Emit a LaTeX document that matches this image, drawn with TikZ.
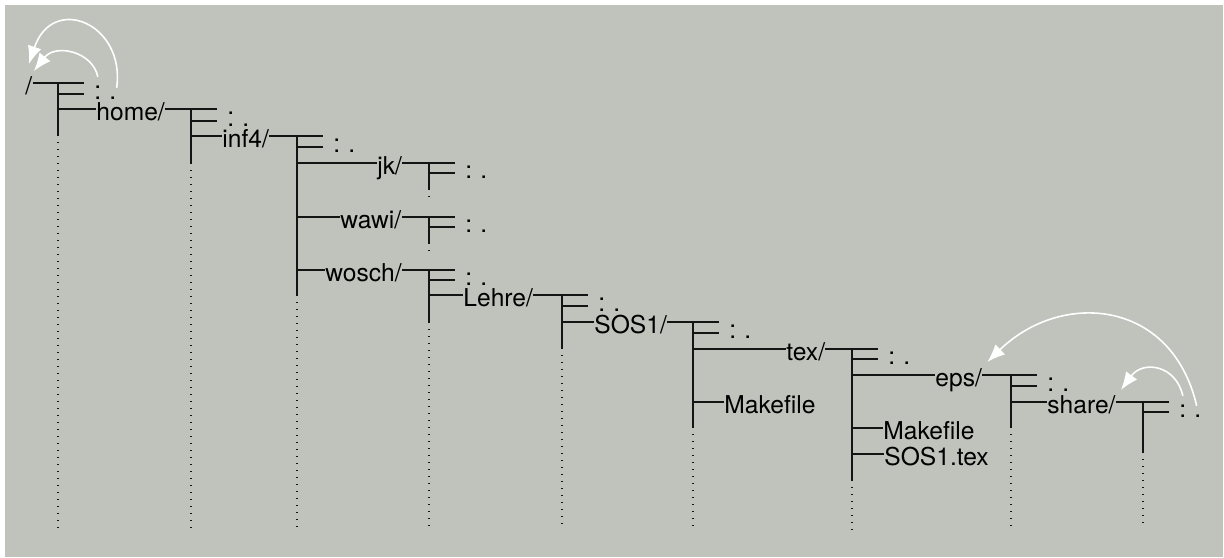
\documentclass[tikz,border=0pt]{standalone}
\usepackage{fontspec}
\setmainfont{TeX Gyre Heros}
\usepackage{tikz}
\usepackage{xcolor}
\usetikzlibrary{arrows.meta}
\definecolor{paper}{RGB}{191,195,188}
\definecolor{ink}{RGB}{20,20,20}

\begin{document}
\begin{tikzpicture}[x=0.5pt, y=-0.5pt,
  entry/.style={inner sep=0pt, anchor=west, text height=11.5pt, text depth=0pt, font=\fontsize{12.3}{14}\selectfont},
  dotentry/.style={entry, text height=5.8pt},
  twig/.style={draw=ink, line width=0.55pt},
  branch/.style={twig, shorten >=5pt},
  rest/.style={draw=ink, line width=0.65pt, dash pattern=on 0.65pt off 2.85pt},
  uplink/.style={draw=white, line width=0.8pt, -{Latex[length=9pt,width=7pt]}}]
% Background
\fill[white] (0,0) rectangle (1224,557);
\fill[paper] (5,5) rectangle (1223,557);
\useasboundingbox (0,0) rectangle (1224,557);
% Trunks
\coordinate (root-t) at (58,83);
\coordinate (home-t) at (191,109);
\coordinate (inf4-t) at (297,136);
\coordinate (jk-t) at (429,163);
\coordinate (wawi-t) at (429,217);
\coordinate (wosch-t) at (429,270);
\coordinate (lehre-t) at (562,295);
\coordinate (sos1-t) at (693,322);
\coordinate (tex-t) at (852,349);
\coordinate (eps-t) at (1011,375);
\coordinate (share-t) at (1143,402);
\foreach \d/\s/\e in {root/135/528, home/163/533, inf4/295/532, jk/189/200, wawi/243/253,
    wosch/322/530, lehre/348/528, sos1/427/530, tex/480/533, eps/427/530, share/452/528} {
  \draw[twig] (\d-t) -- (\d-t |- 0,\s);
  \draw[rest] (\d-t |- 0,\s) -- (\d-t |- 0,\e);
}
% /
\node[entry] (root) at (25,83) {/};
\node[dotentry] (root-cur) at (94,83) {.};
\node[dotentry] (root-par) at (94,94) {.\hspace{4.1pt}.};
\node[entry] (home) at (96,109) {home/};
\draw[branch] (root) -- (root-cur);
\draw[branch] (root-t |- root-par) -- (root-par);
\draw[twig] (root-t |- home) -- (home);
% home/
\node[dotentry] (home-cur) at (227,109) {.};
\node[dotentry] (home-par) at (227,121) {.\hspace{4.1pt}.};
\node[entry] (inf4) at (222,136) {inf4/};
\draw[branch] (home) -- (home-cur);
\draw[branch] (home-t |- home-par) -- (home-par);
\draw[twig] (home-t |- inf4) -- (inf4);
% inf4/
\node[dotentry] (inf4-cur) at (333,136) {.};
\node[dotentry] (inf4-par) at (333,147) {.\hspace{4.1pt}.};
\node[entry] (jk) at (377,163) {jk/};
\node[entry] (wawi) at (340,217) {wawi/};
\node[entry] (wosch) at (325,270) {wosch/};
\draw[branch] (inf4) -- (inf4-cur);
\draw[branch] (inf4-t |- inf4-par) -- (inf4-par);
\draw[twig] (inf4-t |- jk) -- (jk);
\draw[twig] (inf4-t |- wawi) -- (wawi);
\draw[twig] (inf4-t |- wosch) -- (wosch);
% jk/
\node[dotentry] (jk-cur) at (465,163) {.};
\node[dotentry] (jk-par) at (465,173) {.\hspace{4.1pt}.};
\draw[branch] (jk) -- (jk-cur);
\draw[branch] (jk-t |- jk-par) -- (jk-par);
% wawi/
\node[dotentry] (wawi-cur) at (465,217) {.};
\node[dotentry] (wawi-par) at (465,227) {.\hspace{4.1pt}.};
\draw[branch] (wawi) -- (wawi-cur);
\draw[branch] (wawi-t |- wawi-par) -- (wawi-par);
% wosch/
\node[dotentry] (wosch-cur) at (465,270) {.};
\node[dotentry] (wosch-par) at (465,280) {.\hspace{4.1pt}.};
\node[entry] (lehre) at (463,295) {Lehre/};
\draw[branch] (wosch) -- (wosch-cur);
\draw[branch] (wosch-t |- wosch-par) -- (wosch-par);
\draw[twig] (wosch-t |- lehre) -- (lehre);
% Lehre/
\node[dotentry] (lehre-cur) at (598,295) {.};
\node[dotentry] (lehre-par) at (598,306) {.\hspace{4.1pt}.};
\node[entry] (sos1) at (594,322) {SOS1/};
\draw[branch] (lehre) -- (lehre-cur);
\draw[branch] (lehre-t |- lehre-par) -- (lehre-par);
\draw[twig] (lehre-t |- sos1) -- (sos1);
% SOS1/
\node[dotentry] (sos1-cur) at (729,322) {.};
\node[dotentry] (sos1-par) at (729,333) {.\hspace{4.1pt}.};
\node[entry] (tex) at (786,349) {tex/};
\node[entry] (sos1-make) at (724,402) {Makefile};
\draw[branch] (sos1) -- (sos1-cur);
\draw[branch] (sos1-t |- sos1-par) -- (sos1-par);
\draw[twig] (sos1-t |- tex) -- (tex);
\draw[twig] (sos1-t |- sos1-make) -- (sos1-make);
% tex/
\node[dotentry] (tex-cur) at (888,349) {.};
\node[dotentry] (tex-par) at (888,359) {.\hspace{4.1pt}.};
\node[entry] (eps) at (935,375) {eps/};
\node[entry] (tex-make) at (883,428) {Makefile};
\node[entry] (tex-file) at (884,454) {SOS1.tex};
\draw[branch] (tex) -- (tex-cur);
\draw[branch] (tex-t |- tex-par) -- (tex-par);
\draw[twig] (tex-t |- eps) -- (eps);
\draw[twig] (tex-t |- tex-make) -- (tex-make);
\draw[twig] (tex-t |- tex-file) -- (tex-file);
% eps/
\node[dotentry] (eps-cur) at (1047,375) {.};
\node[dotentry] (eps-par) at (1047,386) {.\hspace{4.1pt}.};
\node[entry] (share) at (1047,402) {share/};
\draw[branch] (eps) -- (eps-cur);
\draw[branch] (eps-t |- eps-par) -- (eps-par);
\draw[twig] (eps-t |- share) -- (share);
% share/
\node[dotentry] (share-cur) at (1179,402) {.};
\node[dotentry] (share-par) at (1179,412) {.\hspace{4.1pt}.};
\draw[branch] (share) -- (share-cur);
\draw[branch] (share-t |- share-par) -- (share-par);
% Links back up
\draw[uplink] (root-par.north east) .. controls +(9,-64) and +(24,-71) .. ([yshift=3.5pt]root.north);
\draw[uplink] (root-cur.north) .. controls +(-5,-25) and +(22,-28) .. ([xshift=2.5pt]root.north);
\draw[uplink] ([xshift=-2.5pt]share-par.north east) .. controls +(-25,-107) and +(74,-72) .. ([shift={(2.5pt,6.5pt)}]eps.east);
\draw[uplink] (share-cur.north) .. controls +(-7,-31) and +(22,-30) .. ([shift={(2.5pt,6pt)}]share.east);
\end{tikzpicture}
\end{document}
